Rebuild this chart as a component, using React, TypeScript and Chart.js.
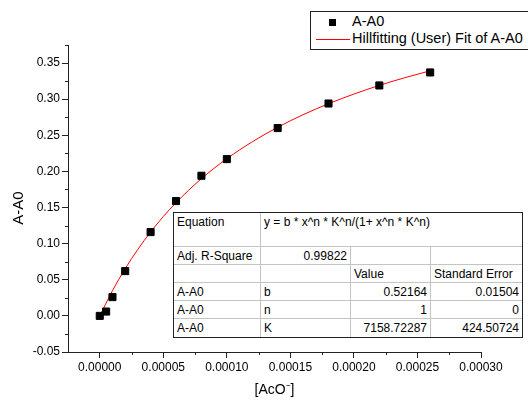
import React, { useEffect, useRef } from "react";
import { Chart, registerables } from "chart.js";
Chart.register(...registerables);

// measured points
const concX = [0, 0.000005, 0.00001, 0.00002, 0.00004, 0.00006, 0.00008, 0.0001, 0.00014, 0.00018, 0.00022, 0.00026];
const absY = [0.0, 0.006, 0.026, 0.062, 0.116, 0.159, 0.194, 0.217, 0.26, 0.294, 0.319, 0.337];

// fitted curve
const fitX = [0, 0.00001, 0.00002, 0.00003, 0.00004, 0.00005, 0.00006, 0.00008, 0.0001, 0.00012, 0.00014, 0.00016, 0.00018, 0.0002, 0.00022, 0.00024, 0.00026];
const fitY = [0, 0.0349, 0.0653, 0.0922, 0.1161, 0.1375, 0.1567, 0.19, 0.2176, 0.241, 0.2611, 0.2785, 0.2937, 0.3071, 0.3191, 0.3297, 0.3393];

const xTicks = [0, 0.00005, 0.0001, 0.00015, 0.0002, 0.00025, 0.0003];
const xMinor = [0.000025, 0.000075, 0.000125, 0.000175, 0.000225, 0.000275];
const yTicks = [-0.05, 0, 0.05, 0.1, 0.15, 0.2, 0.25, 0.3, 0.35];
const yMinor = [-0.025, 0.025, 0.075, 0.125, 0.175, 0.225, 0.275, 0.325, 0.375];

const xTitle = "[AcO\u207B]";
const yTitle = "A-A0";
const seriesName = "A-A0";
const fitName = "Hillfitting (User) Fit of A-A0";

// results table
const equationText = "y = b * x^n * K^n/(1+ x^n * K^n)";
const adjR2 = "0.99822";
const tableHeader = ["", "", "Value", "Standard Error"];
const paramRows = [
  ["A-A0", "b", "0.52164", "0.01504"],
  ["A-A0", "n", "1", "0"],
  ["A-A0", "K", "7158.72287", "424.50724"],
];

const FONT = "'Liberation Sans', Arial, sans-serif";

const decor = {
  id: "decor",
  afterDraw(chart: any) {
    const { ctx, chartArea } = chart;
    const x = chart.scales.x;
    const y = chart.scales.y;
    ctx.save();
    ctx.strokeStyle = "#222";
    ctx.lineWidth = 1;
    ctx.beginPath();
    for (const v of yMinor) {
      const py = Math.round(y.getPixelForValue(v)) + 0.5;
      ctx.moveTo(chartArea.left - 3, py);
      ctx.lineTo(chartArea.left, py);
    }
    for (const v of xMinor) {
      const px = Math.round(x.getPixelForValue(v)) + 0.5;
      ctx.moveTo(px, chartArea.bottom);
      ctx.lineTo(px, chartArea.bottom + 3);
    }
    ctx.stroke();
    ctx.fillStyle = "#000";
    ctx.font = `14px ${FONT}`;
    ctx.textAlign = "center";
    ctx.textBaseline = "middle";
    ctx.fillText(xTitle, (chartArea.left + chartArea.right) / 2, 390);
    ctx.translate(19, 208);
    ctx.rotate(-Math.PI / 2);
    ctx.font = `15px ${FONT}`;
    ctx.fillText(yTitle, 0, 0);
    ctx.restore();
  },
};

const COLS = [87, 90, 80, 91];
const ROWH = [34, 18, 18, 18, 18, 18];

function ResultTable() {
  const rows: { text: string; span?: number; align?: string }[][] = [
    [{ text: "Equation" }, { text: equationText, span: 3 }],
    [{ text: "Adj. R-Square" }, { text: adjR2, align: "right" }, { text: "" }, { text: "" }],
    tableHeader.map((t) => ({ text: t })),
    ...paramRows.map((r) => [
      { text: r[0] },
      { text: r[1] },
      { text: r[2], align: "right" },
      { text: r[3], align: "right" },
    ]),
  ];
  const cells: any[] = [];
  let top = 0;
  rows.forEach((row, ri) => {
    let left = 0;
    let ci = 0;
    row.forEach((cell, k) => {
      const span = cell.span || 1;
      let w = 0;
      for (let s = 0; s < span; s++) w += COLS[ci + s];
      cells.push(
        <div
          key={ri + "-" + k}
          style={{
            position: "absolute",
            left,
            top,
            width: w,
            height: ROWH[ri],
            boxSizing: "border-box",
            borderRight: ci + span < COLS.length ? "1px solid #c4c4c4" : "none",
            borderBottom: ri < rows.length - 1 ? "1px solid #c4c4c4" : "none",
            padding: "1px 3px 0 3px",
            textAlign: (cell.align as any) || "left",
            lineHeight: "16px",
            whiteSpace: "nowrap",
            overflow: "hidden",
          }}
        >
          {cell.text}
        </div>
      );
      left += w;
      ci += span;
    });
    top += ROWH[ri];
  });
  const totalW = COLS.reduce((a, b) => a + b, 0);
  const totalH = ROWH.reduce((a, b) => a + b, 0);
  return (
    <div
      style={{
        position: "absolute",
        left: 173,
        top: 212,
        width: totalW + 2,
        height: totalH + 2,
        boxSizing: "border-box",
        border: "1px solid #222",
        background: "#fff",
        font: `12px ${FONT}`,
        color: "#000",
      }}
    >
      {cells}
    </div>
  );
}

function Legend() {
  return (
    <div
      style={{
        position: "absolute",
        left: 310,
        top: 11,
        width: 260,
        height: 39,
        boxSizing: "border-box",
        border: "1px solid #222",
        background: "#fff",
        font: `14.5px ${FONT}`,
        color: "#000",
      }}
    >
      <div style={{ position: "absolute", left: 18, top: 7, width: 7, height: 7, background: "#000" }} />
      <div style={{ position: "absolute", left: 5, top: 27, width: 34, height: 1, background: "#ff0000" }} />
      <div style={{ position: "absolute", left: 41, top: 1, lineHeight: "17px", whiteSpace: "nowrap" }}>{seriesName}</div>
      <div style={{ position: "absolute", left: 41, top: 18, lineHeight: "17px", whiteSpace: "nowrap" }}>{fitName}</div>
    </div>
  );
}

export default function App() {
  const ref = useRef<HTMLCanvasElement | null>(null);
  useEffect(() => {
    if (!ref.current) return;
    const chart = new Chart(ref.current, {
      type: "scatter",
      data: {
        datasets: [
          {
            label: seriesName,
            data: concX.map((v, i) => ({ x: v, y: absY[i] })),
            pointStyle: "rect",
            pointRadius: 5,
            backgroundColor: "#000",
            borderColor: "#000",
            borderWidth: 1,
            showLine: false,
          },
          {
            label: fitName,
            data: fitX.map((v, i) => ({ x: v, y: fitY[i] })),
            showLine: true,
            pointRadius: 0,
            borderColor: "#ff0000",
            borderWidth: 1,
            cubicInterpolationMode: "monotone",
          } as any,
        ],
      },
      options: {
        animation: false,
        responsive: false,
        events: [],
        layout: { padding: { top: 45, right: 47, left: 0, bottom: 0 } },
        plugins: { legend: { display: false }, tooltip: { enabled: false } },
        scales: {
          x: {
            type: "linear",
            min: -0.000025,
            max: 0.0003,
            afterBuildTicks: (s: any) => {
              s.ticks = xTicks.map((value) => ({ value }));
            },
            afterFit: (s: any) => {
              s.height = 49;
            },
            grid: { drawOnChartArea: false, drawTicks: true, tickLength: 6, color: "#222" },
            border: { display: true, color: "#222" },
            ticks: {
              padding: 2,
              color: "#000",
              font: { family: FONT, size: 12 },
              maxRotation: 0,
              callback: (v: any) => Number(v).toFixed(5),
            },
          },
          y: {
            type: "linear",
            min: -0.05,
            max: 0.375,
            afterBuildTicks: (s: any) => {
              s.ticks = yTicks.map((value) => ({ value }));
            },
            afterFit: (s: any) => {
              s.width = 68;
            },
            grid: { drawOnChartArea: false, drawTicks: true, tickLength: 6, color: "#222" },
            border: { display: true, color: "#222" },
            ticks: {
              padding: 2,
              color: "#000",
              font: { family: FONT, size: 12 },
              callback: (v: any) => Number(v).toFixed(2),
            },
          },
        },
      },
      plugins: [decor],
    });
    return () => chart.destroy();
  }, []);
  return (
    <div style={{ position: "absolute", left: 0, top: 0, width: 528, height: 401, overflow: "hidden", background: "#fff" }}>
      <canvas ref={ref} width={528} height={401} style={{ display: "block" }} />
      <Legend />
      <ResultTable />
    </div>
  );
}
